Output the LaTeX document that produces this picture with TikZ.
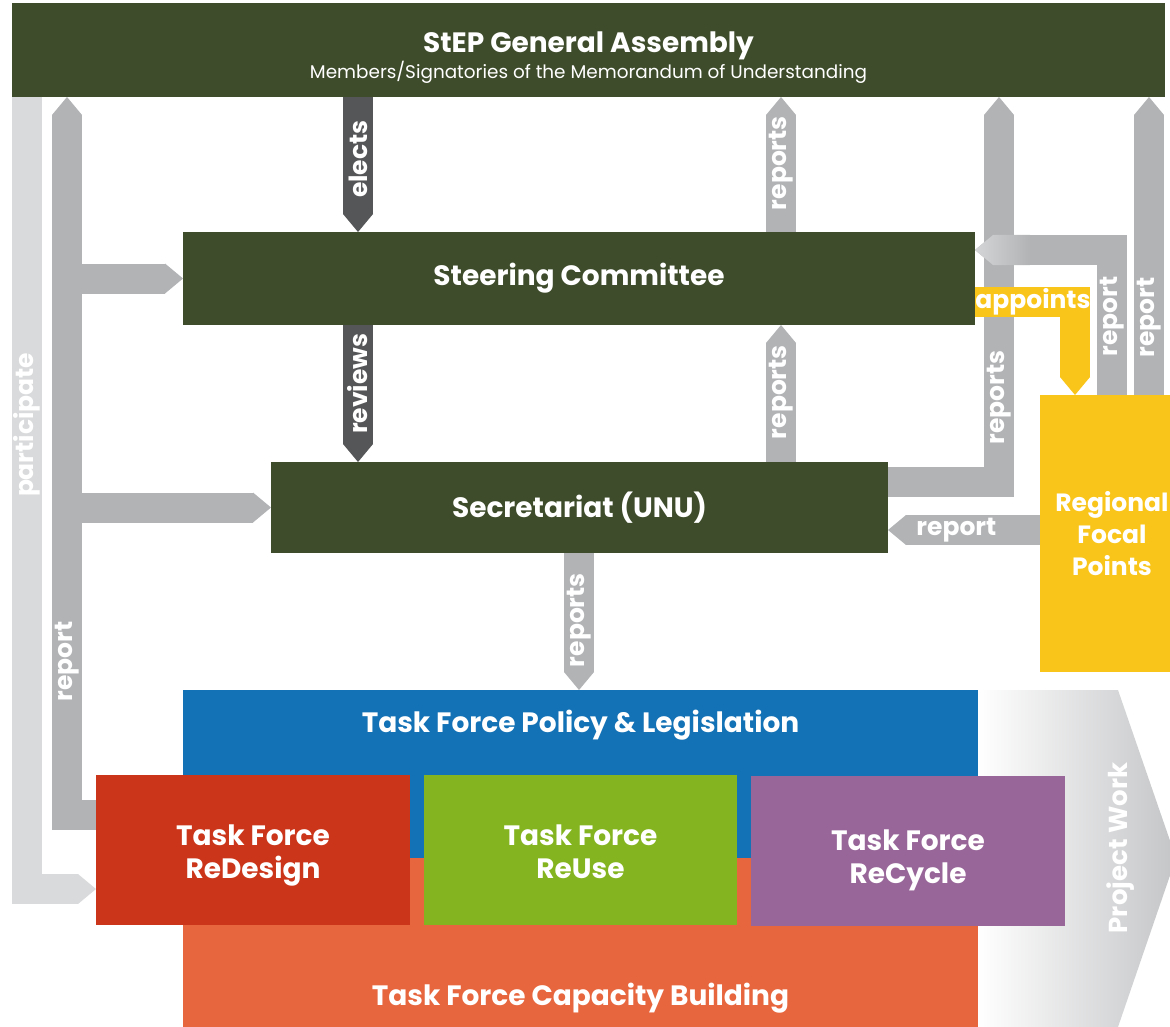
\documentclass[tikz,border=0pt]{standalone}
\usepackage{fontspec}
\setmainfont{Poppins}
\usetikzlibrary{arrows.meta}

\definecolor{stepgreen}{RGB}{62,76,43}
\definecolor{bandgray}{RGB}{177,179,181}
\definecolor{palegray}{RGB}{217,218,219}
\definecolor{darkband}{RGB}{85,86,88}
\definecolor{projgray}{RGB}{196,197,199}
\definecolor{focalyellow}{RGB}{249,197,26}
\definecolor{tfblue}{RGB}{19,113,181}
\definecolor{tforange}{RGB}{232,102,61}
\definecolor{tfred}{RGB}{203,54,26}
\definecolor{tfgreen}{RGB}{132,181,32}
\definecolor{tfpurple}{RGB}{152,102,153}

\newcommand{\bigfont}{\fontsize{28}{33}\selectfont\bfseries}
\newcommand{\bandfont}{\fontsize{25}{27}\selectfont\bfseries}

\tikzset{
    box/.style={rectangle, inner sep=0pt, outer sep=0pt, text=white, align=center, font=\bigfont},
    band/.style={draw=bandgray, line width=30pt, line cap=butt, line join=miter},
    tipped/.style={-{Triangle[length=18pt,width=#1,line width=0pt]}},
    tipped/.default=30pt,
    lbl/.style={text=white, font=\bandfont, inner sep=0pt},
    vlbl/.style={lbl, rotate=90},
}

\begin{document}
\begin{tikzpicture}[x=1pt,y=-1pt]
            \useasboundingbox (0,0) rectangle (1170,1027);
            % project work
            \shade[left color=white, right color=projgray] (978,690) -- (1118,690) -- (1176,858) -- (1118,1027) -- (978,1027) -- cycle;
            \node[vlbl, font=\fontsize{26}{28}\selectfont\bfseries] (pw) at (1121,848) {Project Work};
            \begin{scope}[every node/.style={box}]
                \node[fill=stepgreen, minimum width=1153pt, minimum height=94pt] (ga) at (588.5,50) {\rule{0pt}{36pt}StEP General Assembly\\[-7pt]{\fontsize{18.4}{20}\selectfont\mdseries Members/Signatories of the Memorandum of Understanding}};
                \node[fill=stepgreen, minimum width=792pt, minimum height=93pt] (sc) at (579,278.5) {Steering Committee};
                \node[fill=stepgreen, minimum width=617pt, minimum height=91pt] (sec) at (579.5,507.5) {Secretariat (UNU)};
                \node[fill=focalyellow, minimum width=144pt, minimum height=277pt, font=\fontsize{25}{32}\selectfont\bfseries] (rfp) at (1112,533.5) {Regional\\Focal\\Points};
                \node[fill=tfblue, minimum width=795pt, minimum height=168pt] (pol) at (580.5,774) {};
                \node[fill=tforange, minimum width=795pt, minimum height=169pt] (cap) at (580.5,942.5) {};
                \node (poltext) at (580.5,725) {Task Force Policy \& Legislation};
                \node (captext) at (580.5,998) {Task Force Capacity Building};
                \node[fill=tfred, minimum width=314pt, minimum height=150pt] (rd) at (253,850) {\rule{0pt}{31pt}Task Force\\ReDesign};
                \node[fill=tfgreen, minimum width=313pt, minimum height=150pt] (ru) at (580.5,850) {\rule{0pt}{25pt}Task Force\\ReUse};
                \node[fill=tfpurple, minimum width=314pt, minimum height=150pt] (rc) at (908,851) {\rule{0pt}{40pt}Task Force\\ReCycle};
            \end{scope}
            % left side
            \draw[band, draw=palegray, tipped] (ga.south -| 27,0) |- node[vlbl, pos=0.207] {participate} (rd.west |- 0,889);
            \draw[band, tipped] (rd.west |- 0,815) -| node[vlbl, pos=0.607] {report} (ga.south -| 67,0);
            \draw[band, tipped] (sc.west -| 67,0) -- (sc.west);
            \draw[band, tipped] (sec.west -| 67,0) -- (sec.west);
            % middle
            \draw[band, draw=darkband, tipped] (ga.south -| 358,0) -- node[vlbl, pos=0.46] {elects} (sc.north -| 358,0);
            \draw[band, draw=darkband, tipped] (sc.south -| 358,0) -- node[vlbl, pos=0.43] {reviews} (sec.north -| 358,0);
            \draw[band, tipped] (sc.north -| 781,0) -- node[vlbl, pos=0.51] {reports} (ga.south -| 781,0);
            \draw[band, tipped] (sec.north -| 781,0) -- node[vlbl, pos=0.51] {reports} (sc.south -| 781,0);
            \draw[band, tipped] (sec.south -| 579,0) -- node[vlbl, pos=0.49] {reports} (pol.north -| 579,0);
            % right side
            \draw[band, tipped] (sec.east |- 0,482) -| node[vlbl, pos=0.61] {reports} (ga.south -| 999,0);
            \draw[band, tipped] (rfp.north -| 1149,0) -- node[vlbl, pos=0.26] {report} (ga.south -| 1149,0);
            \draw[band, tipped] (rfp.north -| 1112,0) |- node[vlbl, pos=0.27] {report} (sc.east |- 0,250);
            \shade[left color=bandgray!55!white, right color=bandgray] (sc.east |- 0,250) -- (993,235) -- (1030,235) -- (1030,265) -- (993,265) -- cycle;
            \draw[band, draw=focalyellow, tipped] (sc.east |- 0,302) -| node[lbl, pos=0.29] {appoints} (rfp.north -| 1075,0);
            \draw[band, tipped] (rfp.west |- 0,530) -- node[lbl, pos=0.55] {report} (sec.east |- 0,530);
        \end{tikzpicture}
\end{document}
